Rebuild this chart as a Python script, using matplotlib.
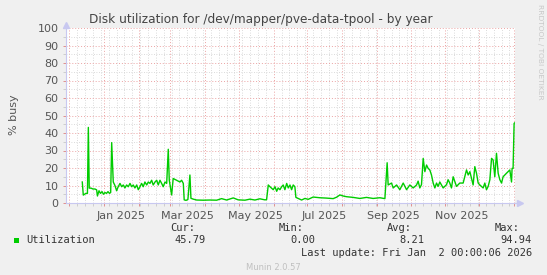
import matplotlib
matplotlib.use('Agg')
import matplotlib.pyplot as plt
import matplotlib.dates as mdates
from matplotlib.patches import Rectangle
import pandas as pd

# ---------------- data ----------------
start_date = '2024-11-28'
end_date = '2026-01-02'

day_offsets = [
    14.5, 15.4, 16.5, 17.8, 19.1, 19.9, 20.7, 22.3, 24.0, 25.8, 27.3, 28.0, 29.4, 30.7,
    32.1, 33.4, 34.7, 36.1, 37.4, 38.7, 39.8, 40.7, 42.1, 43.6, 45.1, 46.3, 48.1, 49.6,
    51.0, 52.5, 54.0, 55.5, 57.0, 58.5, 59.9, 61.4, 63.0, 64.4, 65.9, 67.4, 68.8, 70.3,
    71.9, 73.3, 74.8, 76.3, 77.7, 79.3, 80.8, 82.2, 83.7, 85.2, 86.6, 88.2, 89.7, 91.1,
    92.0, 94.1, 95.5, 98.6, 101.5, 103.0, 104.5, 105.3, 106.9, 108.6, 110.4, 111.3, 113.4,
    116.4, 122.3, 128.2, 134.2, 138.6, 143.1, 149.0, 153.4, 159.4, 163.8, 168.3, 172.7,
    177.2, 178.7, 180.2, 181.7, 184.6, 186.2, 187.7, 189.0, 190.6, 192.1, 193.5, 195.0,
    196.6, 198.0, 199.5, 201.0, 202.4, 203.9, 204.8, 206.9, 209.9, 212.8, 215.8, 220.2,
    226.2, 232.1, 238.0, 241.0, 244.0, 246.9, 249.9, 255.8, 261.8, 267.7, 273.6, 279.6,
    284.1, 286.1, 287.0, 290.0, 291.5, 294.5, 297.4, 300.4, 301.9, 303.4, 306.3, 309.3,
    312.3, 313.7, 315.2, 316.7, 318.2, 319.7, 321.2, 322.6, 324.1, 325.6, 327.1, 328.6,
    330.1, 331.5, 333.0, 336.0, 339.0, 340.4, 341.9, 343.4, 344.9, 347.9, 350.8, 353.8,
    356.8, 358.3, 359.8, 362.7, 364.2, 365.7, 367.2, 368.7, 371.6, 373.1, 374.6, 376.1,
    377.6, 379.1, 380.5, 382.0, 383.5, 385.0, 386.5, 388.0, 389.4, 392.4, 395.4, 396.9,
    397.4, 398.3, 399.2, 399.8,
]

busy_pct = [
    12.0, 4.5, 5.0, 5.5, 5.5, 43.2, 8.5, 8.5, 8.0, 8.0, 7.5, 4.0, 7.0, 5.5,
    6.5, 5.0, 6.0, 5.5, 6.5, 5.5, 6.0, 34.5, 12.0, 10.0, 7.0, 9.0, 11.2, 9.3,
    10.3, 8.6, 10.3, 9.3, 11.2, 9.3, 10.3, 8.6, 10.3, 7.6, 9.3, 11.2, 9.3, 12.0,
    10.3, 12.0, 11.2, 13.0, 10.3, 12.0, 13.0, 10.3, 13.0, 11.2, 9.3, 12.0, 11.2, 30.7,
    13.0, 4.6, 14.0, 13.0, 12.0, 13.0, 11.2, 1.8, 1.5, 2.0, 16.0, 2.7, 2.2,
    1.7, 1.6, 1.7, 1.6, 2.5, 1.7, 2.9, 1.8, 1.6, 2.2, 1.7, 2.4,
    1.8, 1.9, 10.3, 9.3, 7.6, 9.3, 6.7, 8.6, 7.6, 9.3, 10.3, 7.6,
    11.2, 8.6, 10.3, 7.6, 10.3, 9.3, 3.2, 2.6, 1.7, 2.6, 2.1, 3.4,
    3.0, 2.8, 2.5, 3.3, 4.6, 4.0, 3.6, 3.2, 2.6, 3.2, 2.6, 3.0,
    2.5, 23.0, 10.3, 11.4, 8.6, 10.3, 7.6, 11.4, 9.5, 7.6, 10.3, 8.6,
    10.3, 12.5, 8.6, 10.5, 25.5, 17.9, 21.7, 19.8, 18.9, 16.0, 11.4, 8.6,
    11.4, 9.5, 12.0, 8.6, 10.5, 13.3, 11.4, 8.6, 15.0, 9.5, 11.4, 11.4,
    18.9, 16.0, 17.9, 10.3, 20.8, 17.0, 11.4, 10.3, 8.6, 11.4, 7.6, 9.5,
    13.3, 25.5, 24.6, 15.0, 28.4, 17.0, 13.3, 11.4, 15.0, 17.0, 18.9, 12.0,
    19.8, 19.8, 45.5, 45.8,
]

month_labels = ['Jan 2025', 'Mar 2025', 'May 2025', 'Jul 2025', 'Sep 2025', 'Nov 2025']
month_label_dates = ['2025-01-16', '2025-03-16', '2025-05-16', '2025-07-16', '2025-09-16', '2025-11-16']
y_ticks = [0, 10, 20, 30, 40, 50, 60, 70, 80, 90, 100]

series_name = 'Utilization'
stat_names = ['Cur:', 'Min:', 'Avg:', 'Max:']
stat_values = ['45.79', '0.00', '8.21', '94.94']
title = 'Disk utilization for /dev/mapper/pve-data-tpool - by year'
y_label = '% busy'
last_update = 'Last update: Fri Jan  2 00:00:06 2026'
footer = 'Munin 2.0.57'
side_text = 'RRDTOOL / TOBI OETIKER'

# ---------------- figure ----------------
W, H = 547, 275
fig = plt.figure(figsize=(W / 100, H / 100), dpi=100, facecolor='#F0F0F0')


def fx(x):
    return x / W


def fy(y):
    return 1 - y / H


ax = fig.add_axes([fx(66), fy(203), 449 / W, 175 / H], facecolor='#FFFFFF')

t0 = pd.Timestamp(start_date)
dates = [t0 + pd.Timedelta(days=d) for d in day_offsets]
ax.plot(dates, busy_pct, color='#00CC00', linewidth=1.0, zorder=3)

ax.set_xlim(pd.Timestamp(start_date), pd.Timestamp(end_date))
ax.set_ylim(0, 100)

# grid
ax.xaxis.set_major_locator(mdates.MonthLocator())
ax.xaxis.set_minor_locator(mdates.WeekdayLocator(byweekday=mdates.SU))
ax.xaxis.set_major_formatter(plt.NullFormatter())
ax.set_yticks(y_ticks)
ax.set_yticks([v + 5 for v in y_ticks[:-1]], minor=True)
ax.set_yticklabels([str(v) for v in y_ticks], fontsize=8, color='#555555')

ax.grid(which='minor', color='#CFCFCF', linestyle=(0, (1, 2)), linewidth=0.6)
ax.grid(which='major', color='#EBA3A3', linestyle=(0, (1, 2)), linewidth=0.7)
ax.set_axisbelow(True)

ax.tick_params(axis='both', which='major', length=2.5, width=0.7, color='#E09090', pad=3)
ax.tick_params(axis='both', which='minor', length=2, width=0.6, color='#C8C8C8')

for s in ['top', 'right']:
    ax.spines[s].set_visible(False)
for s in ['left', 'bottom']:
    ax.spines[s].set_color('#C8C8F0')
    ax.spines[s].set_linewidth(0.8)

# axis arrows
ax.plot([0, 0], [1.0, 1.02], color='#C8C8F0', linewidth=0.8, transform=ax.transAxes, clip_on=False)
ax.plot([0], [1.02], marker='^', color='#C8C8F0', markersize=4, transform=ax.transAxes,
        clip_on=False)
ax.plot([1.0, 1.012], [0, 0], color='#C8C8F0', linewidth=0.8, transform=ax.transAxes, clip_on=False)
ax.plot([1.012], [0], marker='>', color='#C8C8F0', markersize=4, transform=ax.transAxes,
        clip_on=False)

# month labels centered in months
for lab, d in zip(month_labels, month_label_dates):
    ax.text(pd.Timestamp(d), -0.045, lab, transform=ax.get_xaxis_transform(),
            ha='center', va='top', fontsize=8, color='#555555')

# title and y label
fig.text(fx(261), fy(19), title, ha='center', va='center', fontsize=8.7, color='#444444')
fig.text(fx(14), fy(115), y_label, ha='center', va='center', rotation=90, fontsize=8,
         color='#555555')
fig.text(fx(540), fy(4), side_text, ha='center', va='top', rotation=270, fontsize=5.4,
         color='#C8C8C8')

# legend
mono = 'DejaVu Sans Mono'
fig.patches.append(Rectangle((fx(14), fy(243)), 5 / W, 5 / H, transform=fig.transFigure,
                             facecolor='#00CC00', edgecolor='none'))
fig.text(fx(26), fy(240), series_name, ha='left', va='center', fontsize=7.5, family=mono,
         color='#333333')
stat_right_header = [195, 304, 412, 520]
stat_right_value = [206, 315, 424, 532]
for name, val, xh, xv in zip(stat_names, stat_values, stat_right_header, stat_right_value):
    fig.text(fx(xh), fy(228), name, ha='right', va='center', fontsize=7.5, family=mono,
             color='#333333')
    fig.text(fx(xv), fy(240), val, ha='right', va='center', fontsize=7.5, family=mono,
             color='#333333')
fig.text(fx(532), fy(253), last_update, ha='right', va='center', fontsize=7.5, family=mono,
         color='#333333')
fig.text(fx(273), fy(267), footer, ha='center', va='center', fontsize=6, color='#C0C0C0')

fig.savefig('out.png', dpi=100, facecolor='#F0F0F0')
